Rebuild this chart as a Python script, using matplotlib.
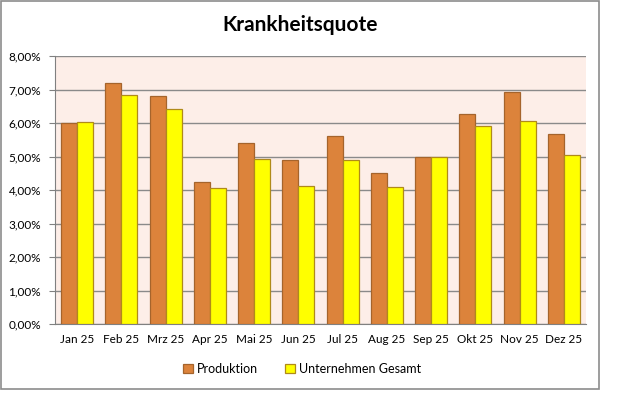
import numpy as np
import matplotlib.pyplot as plt
from matplotlib.patches import Rectangle
from matplotlib.ticker import FuncFormatter

# data
months = ["Jan 25", "Feb 25", "Mrz 25", "Apr 25", "Mai 25", "Jun 25",
          "Jul 25", "Aug 25", "Sep 25", "Okt 25", "Nov 25", "Dez 25"]
produktion = [6.00, 7.18, 6.80, 4.23, 5.39, 4.89, 5.60, 4.50, 4.98, 6.26, 6.92, 5.66]
gesamt = [6.02, 6.83, 6.41, 4.05, 4.92, 4.11, 4.89, 4.08, 5.00, 5.90, 6.05, 5.04]

plt.rcParams["font.family"] = ["Lato", "DejaVu Sans"]

W, H = 626, 399
fig = plt.figure(figsize=(W / 100, H / 100), dpi=100)

# outer chart frame
fig.patches.append(Rectangle((1 / W, (H - 389) / H), 598 / W, 388 / H,
                             transform=fig.transFigure, fill=False,
                             edgecolor="#8c8c8c", linewidth=1.2))

ax = fig.add_axes([55 / W, (H - 324) / H, 531 / W, 268 / H])
ax.set_facecolor("#fdeee8")

x = np.arange(len(months))
w = 0.36
ax.bar(x - w / 2, produktion, w, color="#dc833b", edgecolor="#a5642c",
       linewidth=0.9, label="Produktion", zorder=3)
ax.bar(x + w / 2, gesamt, w, color="#ffff00", edgecolor="#b08a1a",
       linewidth=0.9, label="Unternehmen Gesamt", zorder=3)

ax.set_xlim(-0.5, len(months) - 0.5)
ax.set_ylim(0, 8)
ax.set_yticks(np.arange(0, 9, 1))
ax.yaxis.set_major_formatter(FuncFormatter(lambda v, p: f"{v:.2f}%".replace(".", ",")))
ax.set_xticks(x)
ax.set_xticklabels(months)
ax.tick_params(axis="y", length=4, color="#808080", labelsize=8.5, pad=6)
ax.tick_params(axis="x", length=0, labelsize=8.5, pad=7)
ax.grid(axis="y", color="#8a8a8a", linewidth=1, zorder=1)

for s in ["top", "right"]:
    ax.spines[s].set_visible(False)
ax.spines["left"].set_color("#808080")
ax.spines["bottom"].set_color("#808080")

fig.text(300 / W, 1 - 25 / H, "Krankheitsquote", ha="center", va="center",
         fontsize=15, fontweight="bold")

fig.legend(loc="center", bbox_to_anchor=(302 / W, 1 - 369 / H), ncol=2,
           frameon=False, fontsize=9, handlelength=0.8, handleheight=0.8,
           handletextpad=0.3, columnspacing=2.2)

fig.savefig("out.png", dpi=100)
